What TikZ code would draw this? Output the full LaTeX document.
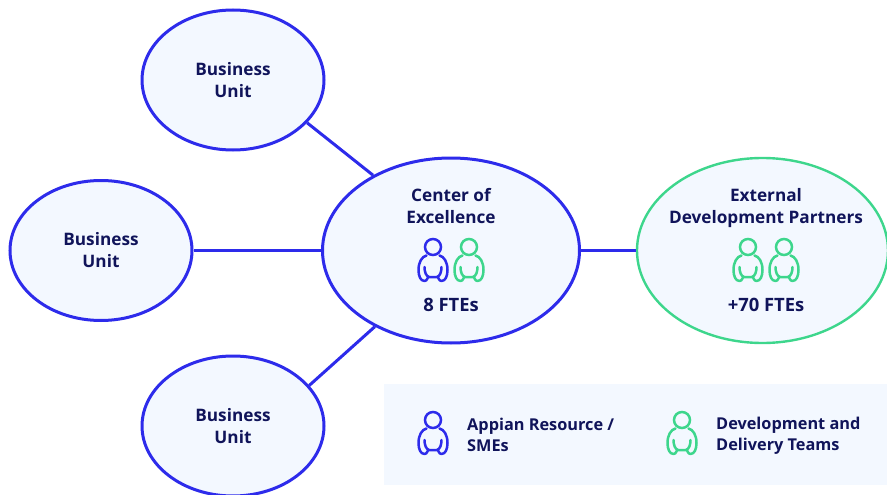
\documentclass[tikz,border=0pt]{standalone}
\usepackage{fontspec}
\setmainfont{Open Sans}
\usetikzlibrary{shapes.geometric}
\definecolor{unitblue}{HTML}{2D2BEB}
\definecolor{partnergreen}{HTML}{3DD68C}
\definecolor{panelfill}{HTML}{F3F8FF}
\definecolor{labelnavy}{HTML}{10145A}
\tikzset{
  label text/.style={text=labelnavy, font=\bfseries\fontsize{17.2}{22}\selectfont, align=center, inner sep=0pt},
  count text/.style={label text, font=\bfseries\fontsize{18.4}{22}\selectfont},
  legend text/.style={label text, font=\bfseries\fontsize{16.3}{21}\selectfont, align=left, anchor=west},
  unit/.style={ellipse, draw=unitblue, fill=panelfill, line width=3pt, minimum width=182pt, minimum height=140pt, inner sep=0pt, label text},
  hub/.style={unit, minimum width=257pt, minimum height=185pt},
  partner/.style={hub, draw=partnergreen, line width=2.4pt, minimum width=251pt},
  link/.style={draw=unitblue, line width=3pt},
  pics/person/.style={code={
    \draw[#1, line width=2.5pt] (0,-14) circle (8);
    \draw[#1, line width=2.5pt, line cap=round, line join=round]
      (-6.5,-5.5) .. controls (-11,-4.5) and (-14.5,1) .. (-14.5,9)
      .. controls (-14.5,15) and (-12.5,20) .. (-8.5,20)
      .. controls (-5.5,20) and (-6,16) .. (-4,16) -- (4,16)
      .. controls (6,16) and (5.5,20) .. (8.5,20)
      .. controls (12.5,20) and (14.5,15) .. (14.5,9)
      .. controls (14.5,1) and (11,-4.5) .. (6.5,-5.5);
    \draw[#1, line width=2.5pt, line cap=round] (-8.5,6) .. controls (-8.5,11) and (-7,15) .. (-4,16);
    \draw[#1, line width=2.5pt, line cap=round] (8.5,6) .. controls (8.5,11) and (7,15) .. (4,16);
  }}
}
\begin{document}
\begin{tikzpicture}[x=1pt, y=-1pt]
\useasboundingbox (0,0) rectangle (887,495);
\begin{scope}
\clip (0,0) rectangle (887,495);
% Units and hubs
\node[unit] (topunit) at (233,80) {Business\\Unit};
\node[unit] (midunit) at (101,250.5) {Business\\Unit};
\node[unit] (lowunit) at (233,426) {Business\\Unit};
\node[hub] (coe) at (451,250.5) {};
\node[partner] (external) at (762.5,250.5) {};
% Links
\draw[link] (topunit.-30) -- (coe.136);
\draw[link] (midunit) -- (coe);
\draw[link] (lowunit.28) -- (coe.225);
\draw[link] (coe) -- (external);
\end{scope}
% Hub texts
\node[label text] (coetitle) at (451,206) {Center of\\Excellence};
\node[count text] (coecount) at (451,305) {8 FTEs};
\node[label text] (exttitle) at (766,208) {External\\Development Partners};
\node[count text] (extcount) at (766,305) {+70 FTEs};
\pic at (433,261) {person=unitblue};
\pic at (469,261) {person=partnergreen};
\pic at (748,261) {person=partnergreen};
\pic at (784,261) {person=partnergreen};
% Legend
\node[fill=panelfill, minimum width=503pt, minimum height=101pt, inner sep=0pt] (legend) at (635.5,434.5) {};
\pic at (433,434) {person=unitblue};
\pic at (682,434) {person=partnergreen};
\node[legend text] (legendres) at (467,435) {Appian Resource /\\SMEs};
\node[legend text] (legendteam) at (716,436) {Development and\\Delivery Teams};
\end{tikzpicture}
\end{document}
